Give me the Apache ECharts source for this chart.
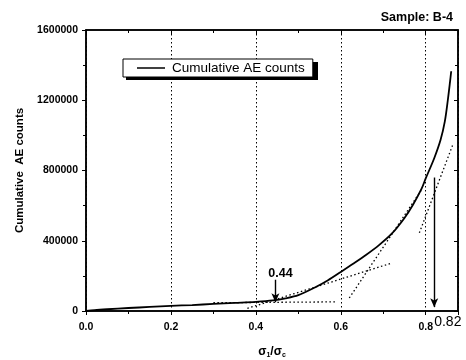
<!DOCTYPE html>
<html><head><meta charset="utf-8">
<script src="https://cdn.jsdelivr.net/npm/echarts@6/dist/echarts.min.js"></script>
<style>html,body{margin:0;padding:0;background:#fff}#c{width:466px;height:360px}</style>
</head><body><div id="c"></div>
<script>
// ---- data ----
var curveX = [0,0.02,0.05,0.1,0.15,0.2,0.25,0.3,0.35,0.4,0.44,0.47,0.5,0.54,0.57,0.6,0.63,0.66,0.69,0.72,0.75,0.77,0.79,0.8,0.82,0.835,0.845,0.852,0.857,0.86];
var curveY = [0,5000,10000,17000,23000,29000,34000,40000,46000,52000,60000,72000,90000,135000,175000,222000,270000,320000,375000,440000,530000,605000,695000,755000,870000,975000,1080000,1200000,1300000,1365000];
var tangent1 = [[0.30,47000],[0.59,52000]];
var tangent2 = [[0.38,15000],[0.72,273000]];
var tangent3 = [[0.62,74000],[0.79,690000]];
var tangent4 = [[0.785,445000],[0.865,955000]];
var threshold1 = 0.446, threshold2 = 0.82;
var annotations = ['0.44','0.82'];

var FONT = '"Liberation Sans", Arial, sans-serif';
var curve = curveX.map(function(x,i){return [x,curveY[i]];});
function tangentSeries(d){
  return {type:'line',data:d,symbol:'none',silent:true,z:3,
    lineStyle:{color:'#000',width:1.3,type:[1.5,2.5]}};
}
var chart = echarts.init(document.getElementById('c'),null,{renderer:'canvas'});
chart.setOption({
  animation:false,
  backgroundColor:'#fff',
  textStyle:{fontFamily:FONT},
  title:{text:'Sample: B-4',right:8,top:6,
    textStyle:{fontFamily:FONT,fontSize:12.5,fontWeight:'bold',color:'#000'}},
  graphic:[{type:'rect',x:126,y:62,z:4,zlevel:0,shape:{width:192,height:18},style:{fill:'#000'}}],
  legend:{data:['Cumulative AE counts'],left:123,top:59,z:6,
    icon:'rect',padding:[2,8,2,14],itemWidth:28,itemHeight:1.5,itemGap:0,
    backgroundColor:'#fff',borderColor:'#000',borderWidth:1,
    textStyle:{fontFamily:FONT,fontSize:13.5,color:'#000',padding:[0,0,0,2]}},
  grid:{left:86,right:8,top:30,bottom:49,show:true,borderColor:'#000',borderWidth:1.5,
    containLabel:false,outerBoundsMode:'none'},
  xAxis:[{type:'value',min:0,max:0.876,interval:0.2,position:'bottom',
    name:'{s|σ}{b|1}{s|/σ}{b|c}',nameLocation:'middle',nameGap:34,
    nameTextStyle:{rich:{s:{fontFamily:FONT,fontSize:12,fontWeight:'bold',color:'#000'},
      b:{fontFamily:FONT,fontSize:7,fontWeight:'bold',color:'#000',padding:[7,0,0,0]}}},
    axisLine:{show:true,onZero:false,lineStyle:{color:'#000',width:1.5}},
    axisTick:{show:true,length:4,lineStyle:{color:'#000',width:1}},
    minorTick:{show:true,splitNumber:2,length:3,lineStyle:{color:'#000'}},
    axisLabel:{fontFamily:FONT,fontSize:10.5,fontWeight:'bold',color:'#000',margin:11,
      formatter:function(v){return v.toFixed(1);},showMaxLabel:false},
    splitLine:{show:true,lineStyle:{color:'#000',width:1,type:[1.5,2.5]}}},
   {type:'value',min:0,max:0.876,interval:0.2,position:'top',
    axisLine:{show:true,onZero:false,lineStyle:{color:'#000',width:1.5}},
    axisTick:{show:true,inside:true,length:4,lineStyle:{color:'#000'}},
    minorTick:{show:true,splitNumber:2,length:3,lineStyle:{color:'#000'}},
    axisLabel:{show:false},splitLine:{show:false}}],
  yAxis:[{type:'value',min:0,max:1600000,interval:400000,
    name:'Cumulative  AE counts',nameLocation:'middle',nameGap:58,
    nameTextStyle:{fontFamily:FONT,fontSize:11.5,fontWeight:'bold',color:'#000'},
    axisLine:{show:true,onZero:false,lineStyle:{color:'#000',width:1.5}},
    axisTick:{show:true,length:4,lineStyle:{color:'#000'}},
    minorTick:{show:true,splitNumber:2,length:3,lineStyle:{color:'#000'}},
    axisLabel:{fontFamily:FONT,fontSize:10.5,fontWeight:'bold',color:'#000',margin:8,
      formatter:function(v){return String(v);}},
    splitLine:{show:false}},
   {type:'value',min:0,max:1600000,interval:400000,position:'right',
    axisLine:{show:true,onZero:false,lineStyle:{color:'#000',width:1.5}},
    axisTick:{show:true,inside:true,length:4,lineStyle:{color:'#000'}},
    minorTick:{show:true,splitNumber:2,length:3,lineStyle:{color:'#000'}},
    axisLabel:{show:false},splitLine:{show:false}}],
  series:[
    {name:'Cumulative AE counts',type:'line',data:curve,symbol:'none',smooth:0.3,z:5,
     lineStyle:{color:'#000',width:1.8},itemStyle:{color:'#000'},
     markLine:{silent:true,symbol:['none','arrow'],symbolSize:[6,9],
       lineStyle:{color:'#000',width:1.4,type:'solid'},
       label:{show:false},
       data:[
         [{coord:[threshold1,178000]},{coord:[threshold1,50000]}],
         [{coord:[threshold2,760000]},{coord:[threshold2,22000]}]
       ]}},
    tangentSeries(tangent1),tangentSeries(tangent2),tangentSeries(tangent3),tangentSeries(tangent4),
    {type:'scatter',symbolSize:0,silent:true,clip:false,itemStyle:{opacity:1,color:'#000'},
     data:[{value:[0.458,212000],label:{formatter:annotations[0],fontSize:12.5,fontWeight:'bold'}},
           {value:[0.852,-62000],label:{formatter:annotations[1],fontSize:14,fontWeight:'normal'}}],
     label:{show:true,position:'inside',color:'#000',textBorderWidth:0,opacity:1,fontFamily:FONT}}
  ]
});
</script></body></html>
